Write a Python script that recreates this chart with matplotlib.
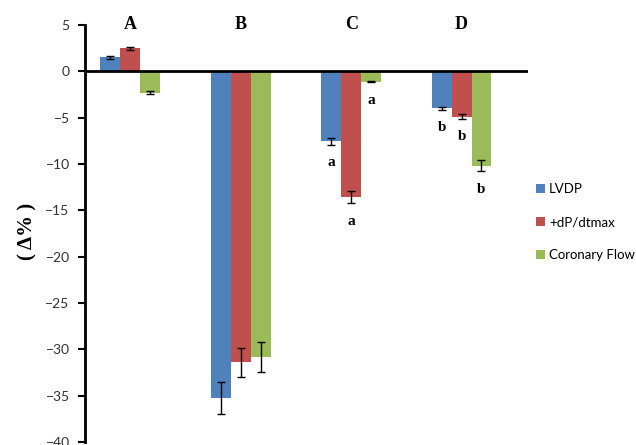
import numpy as np
import matplotlib.pyplot as plt

groups = ['A', 'B', 'C', 'D']
series = ['LVDP', '+dP/dtmax', 'Coronary Flow']
colors = ['#4F81BD', '#C0504D', '#9BBB59']

lvdp = [1.5, -35.25, -7.55, -4.0]
dpdt = [2.5, -31.4, -13.6, -4.9]
flow = [-2.3, -30.85, -1.1, -10.2]

lvdp_err = [0.2, 1.75, 0.4, 0.2]
dpdt_err = [0.15, 1.55, 0.65, 0.25]
flow_err = [0.15, 1.6, 0.1, 0.6]

# significance letters per group (empty = none)
lvdp_sig = ['', '', 'a', 'b']
dpdt_sig = ['', '', 'a', 'b']
flow_sig = ['', '', 'a', 'b']

values = [lvdp, dpdt, flow]
errors = [lvdp_err, dpdt_err, flow_err]
sigs = [lvdp_sig, dpdt_sig, flow_sig]

plt.rcParams['font.family'] = ['Lato', 'DejaVu Sans']

fig = plt.figure(figsize=(6.36, 4.45), dpi=100)
ax = fig.add_axes([0.1336, 0.0067, 0.6964, 0.9371])

x = np.arange(len(groups))
w = 0.18
for i in range(3):
    xs = x + (i - 1) * w
    ax.bar(xs, values[i], w, color=colors[i], label=series[i], zorder=2)
    ax.errorbar(xs, values[i], yerr=errors[i], fmt='none', ecolor='black',
                elinewidth=1, capsize=3, capthick=1, zorder=3)
    for j in range(len(groups)):
        if sigs[i][j]:
            y = values[i][j] - errors[i][j] - 1.9
            ax.text(xs[j], y, sigs[i][j], ha='center', va='center',
                    fontsize=11, fontweight='bold', family='Liberation Serif')

for j, g in enumerate(groups):
    ax.text(x[j], 5.1, g, ha='center', va='center', fontsize=13,
            fontweight='bold', family='Liberation Serif')

ax.axhline(0, color='black', lw=2, zorder=4)
ax.set_xlim(-0.41, 3.6)
ax.set_ylim(-40, 5)
ax.set_yticks(np.arange(-40, 6, 5))
ax.set_xticks([])
for s in ['top', 'right', 'bottom']:
    ax.spines[s].set_visible(False)
ax.spines['left'].set_linewidth(2)
ax.tick_params(axis='y', direction='out', length=5, width=1.5, labelsize=10,
               labelcolor='#333333', pad=6)

fig.text(0.043, 0.48, '( Δ% )', rotation=90, ha='center', va='center',
         fontsize=15, fontweight='bold', family='Liberation Serif')

ax.legend(loc='upper left', bbox_to_anchor=(1.0, 0.64), frameon=False,
          borderaxespad=0.2, handlelength=0.7, handleheight=0.7,
          handletextpad=0.3, labelspacing=1.6, fontsize=9.5)

fig.savefig('out.png', dpi=100)
